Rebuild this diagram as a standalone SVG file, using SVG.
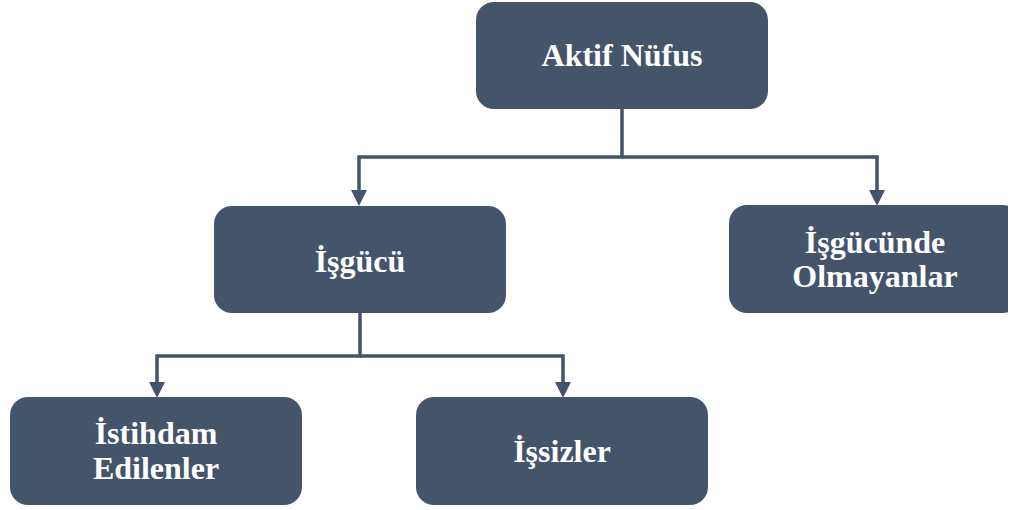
<svg xmlns="http://www.w3.org/2000/svg" width="1011" height="510" viewBox="0 0 1011 510">
<defs>
<style>
.box{fill:#44546A;}
.ln{fill:none;stroke:#44546A;stroke-width:3.5;}
.ah{fill:#44546A;}
</style>
<clipPath id="cut"><rect x="0" y="0" width="1008" height="510"/></clipPath>
</defs>
<g id="connectors">
<path class="ln" d="M622,109 V157 H359 V192" />
<path class="ah" d="M351,190 L367,190 L359,206 Z"/>
<path class="ln" d="M622,157 H877 V192" />
<path class="ah" d="M869,190 L885,190 L877,206 Z"/>
<path class="ln" d="M360,313 V356 H157 V384" />
<path class="ah" d="M149,382 L165,382 L157,398 Z"/>
<path class="ln" d="M360,356 H563 V384" />
<path class="ah" d="M555,382 L571,382 L563,398 Z"/>
</g>
<g font-family="Liberation Serif, Times New Roman, DejaVu Serif, serif" font-weight="bold" font-size="32" fill="#FFFFFF" text-anchor="middle">
<g id="aktif">
<rect class="box" x="476" y="2" width="292" height="107" rx="18"/>
<text x="622" y="66" fill="#FFFFFF">Aktif Nüfus</text>
</g>
<g id="isgucu">
<rect class="box" x="214" y="206" width="292" height="107" rx="18"/>
<text x="360" y="272" fill="#FFFFFF">İşgücü</text>
</g>
<g id="olmayan">
<rect class="box" x="729" y="205" width="292" height="108" rx="18" clip-path="url(#cut)"/>
<text x="875" y="253" fill="#FFFFFF">İşgücünde</text>
<text x="875" y="287" fill="#FFFFFF">Olmayanlar</text>
</g>
<g id="istihdam">
<rect class="box" x="10" y="397" width="292" height="108" rx="18"/>
<text x="156" y="444" fill="#FFFFFF">İstihdam</text>
<text x="156" y="479" fill="#FFFFFF">Edilenler</text>
</g>
<g id="issiz">
<rect class="box" x="416" y="397" width="292" height="108" rx="18"/>
<text x="562" y="462" fill="#FFFFFF">İşsizler</text>
</g>
</g>
</svg>
